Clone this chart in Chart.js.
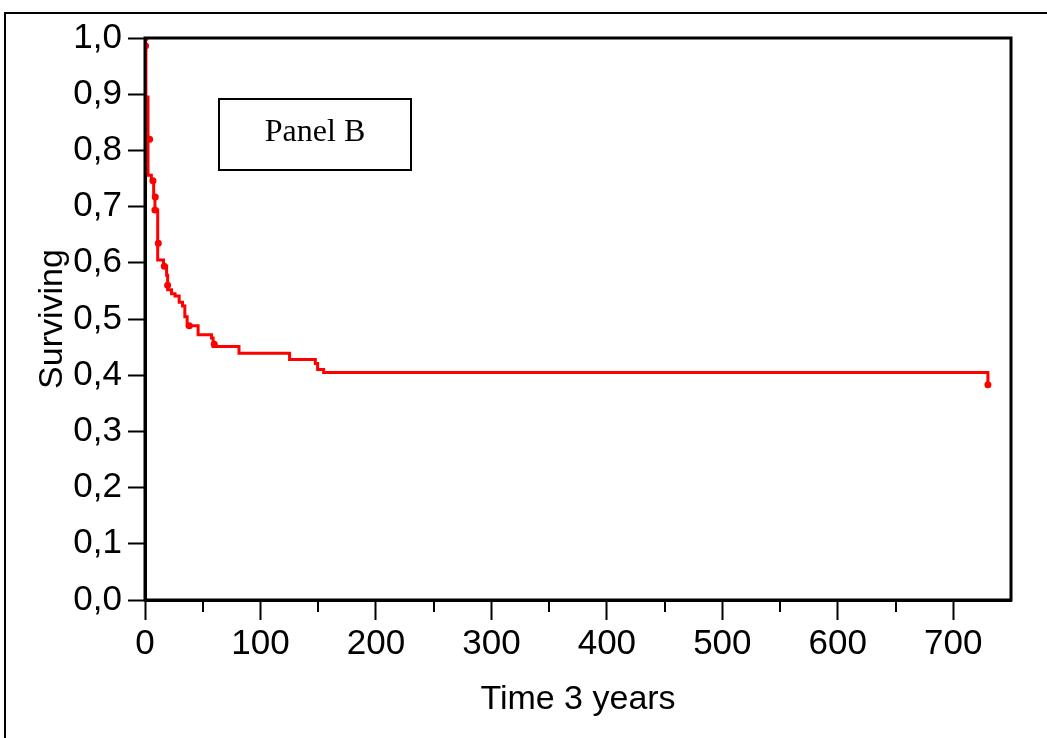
<!DOCTYPE html>
<html>
<head>
<meta charset="utf-8">
<script src="https://cdn.jsdelivr.net/npm/chart.js@4"></script>
<style>
  html, body { margin: 0; padding: 0; background: #fff; }
  #wrap { width: 1047px; height: 738px; }
</style>
</head>
<body>
<div id="wrap"><canvas id="kmChart" width="1047" height="738"></canvas></div>
<script>
// Kaplan-Meier step points (time, surviving fraction)
const stepTimes = [0, 0.5, 0.8, 2.6, 5.5, 7.5, 8.6, 11, 16, 18.7, 19.6, 23, 26, 29.6, 32.5, 34.5, 36.5, 46, 57.6, 59, 81.4, 125.2, 147.5, 149.5, 154.7, 730];
const stepSurv  = [1.0, 0.986, 0.895, 0.756, 0.746, 0.717, 0.694, 0.605, 0.594, 0.578, 0.552, 0.545, 0.541, 0.530, 0.523, 0.504, 0.488, 0.472, 0.466, 0.451, 0.439, 0.428, 0.421, 0.410, 0.405, 0.383];

// censored marks
const censorTimes = [0, 0.5, 4, 6.9, 8.9, 8.6, 11.5, 16.7, 19.6, 38.3, 60, 730];
const censorSurv  = [1.0, 0.986, 0.82, 0.746, 0.717, 0.694, 0.635, 0.594, 0.56, 0.488, 0.455, 0.383];

const xTicks = [0, 100, 200, 300, 400, 500, 600, 700];
const xMinorTicks = [50, 150, 250, 350, 450, 550, 650];
const yTicks = [0, 0.1, 0.2, 0.3, 0.4, 0.5, 0.6, 0.7, 0.8, 0.9, 1.0];

const panelLabel = 'Panel B';

// frame around the page, box around the plot, minor ticks, panel label
const decorations = {
  id: 'decorations',
  beforeDraw(chart) {
    const ctx = chart.ctx;
    ctx.save();
    ctx.fillStyle = '#fff';
    ctx.fillRect(0, 0, chart.width, chart.height);
    ctx.strokeStyle = '#000';
    ctx.lineWidth = 2;
    ctx.beginPath();
    ctx.moveTo(5, chart.height);
    ctx.lineTo(5, 13);
    ctx.lineTo(chart.width, 13);
    ctx.stroke();
    ctx.restore();
  },
  afterDatasetsDraw(chart) {
    const ctx = chart.ctx;
    const a = chart.chartArea;
    const xs = chart.scales.x;
    ctx.save();
    ctx.strokeStyle = '#000';
    ctx.lineWidth = 3;
    ctx.strokeRect(a.left, a.top, a.right - a.left, a.bottom - a.top);
    ctx.lineWidth = 2;
    ctx.beginPath();
    xMinorTicks.forEach(v => {
      const px = Math.round(xs.getPixelForValue(v));
      ctx.moveTo(px, a.bottom);
      ctx.lineTo(px, a.bottom + 12);
    });
    ctx.stroke();
    // panel label box
    ctx.lineWidth = 2;
    ctx.strokeRect(219, 99, 192, 71);
    ctx.fillStyle = '#000';
    ctx.font = '32px "Liberation Serif"';
    ctx.textAlign = 'center';
    ctx.textBaseline = 'middle';
    ctx.fillText(panelLabel, 315, 133);
    ctx.restore();
  }
};

new Chart(document.getElementById('kmChart'), {
  type: 'line',
  data: {
    datasets: [{
      label: 'Surviving',
      data: stepTimes.map((t, i) => ({ x: t, y: stepSurv[i] })),
      borderColor: '#ff0000',
      borderWidth: 3,
      stepped: true,
      pointRadius: 0,
      fill: false
    }, {
      label: 'Censored',
      data: censorTimes.map((t, i) => ({ x: t, y: censorSurv[i] })),
      showLine: false,
      pointRadius: 3.5,
      pointBackgroundColor: '#ff0000',
      pointBorderColor: '#ff0000',
      pointBorderWidth: 0
    }]
  },
  plugins: [decorations],
  options: {
    responsive: false,
    animation: false,
    layout: { padding: { top: 38, right: 36, left: 0, bottom: 0 } },
    plugins: { legend: { display: false }, tooltip: { enabled: false } },
    scales: {
      x: {
        type: 'linear',
        min: 0,
        max: 750,
        afterBuildTicks: s => { s.ticks = xTicks.map(v => ({ value: v })); },
        afterFit: s => { s.height = 138; },
        border: { display: true, color: '#000', width: 3 },
        grid: { drawOnChartArea: false, drawTicks: true, tickLength: 20, tickColor: '#000', tickWidth: 2 },
        ticks: { color: '#000', padding: 3, maxRotation: 0, font: { family: 'Liberation Sans', size: 35 } },
        title: { display: true, text: 'Time 3 years', color: '#000', font: { family: 'Liberation Sans', size: 34 }, padding: { top: 0, bottom: 18 } }
      },
      y: {
        type: 'linear',
        min: 0,
        max: 1,
        afterBuildTicks: s => { s.ticks = yTicks.map(v => ({ value: v })); },
        afterFit: s => { s.width = 145; },
        border: { display: true, color: '#000', width: 3 },
        grid: { drawOnChartArea: false, drawTicks: true, tickLength: 17, tickColor: '#000', tickWidth: 2 },
        ticks: {
          color: '#000', padding: 6,
          font: { family: 'Liberation Sans', size: 35 },
          callback: v => v.toFixed(1).replace('.', ',')
        },
        title: { display: true, text: 'Surviving', color: '#000', font: { family: 'Liberation Sans', size: 34 }, padding: { top: 32, bottom: 0 } }
      }
    }
  }
});
</script>
</body>
</html>
